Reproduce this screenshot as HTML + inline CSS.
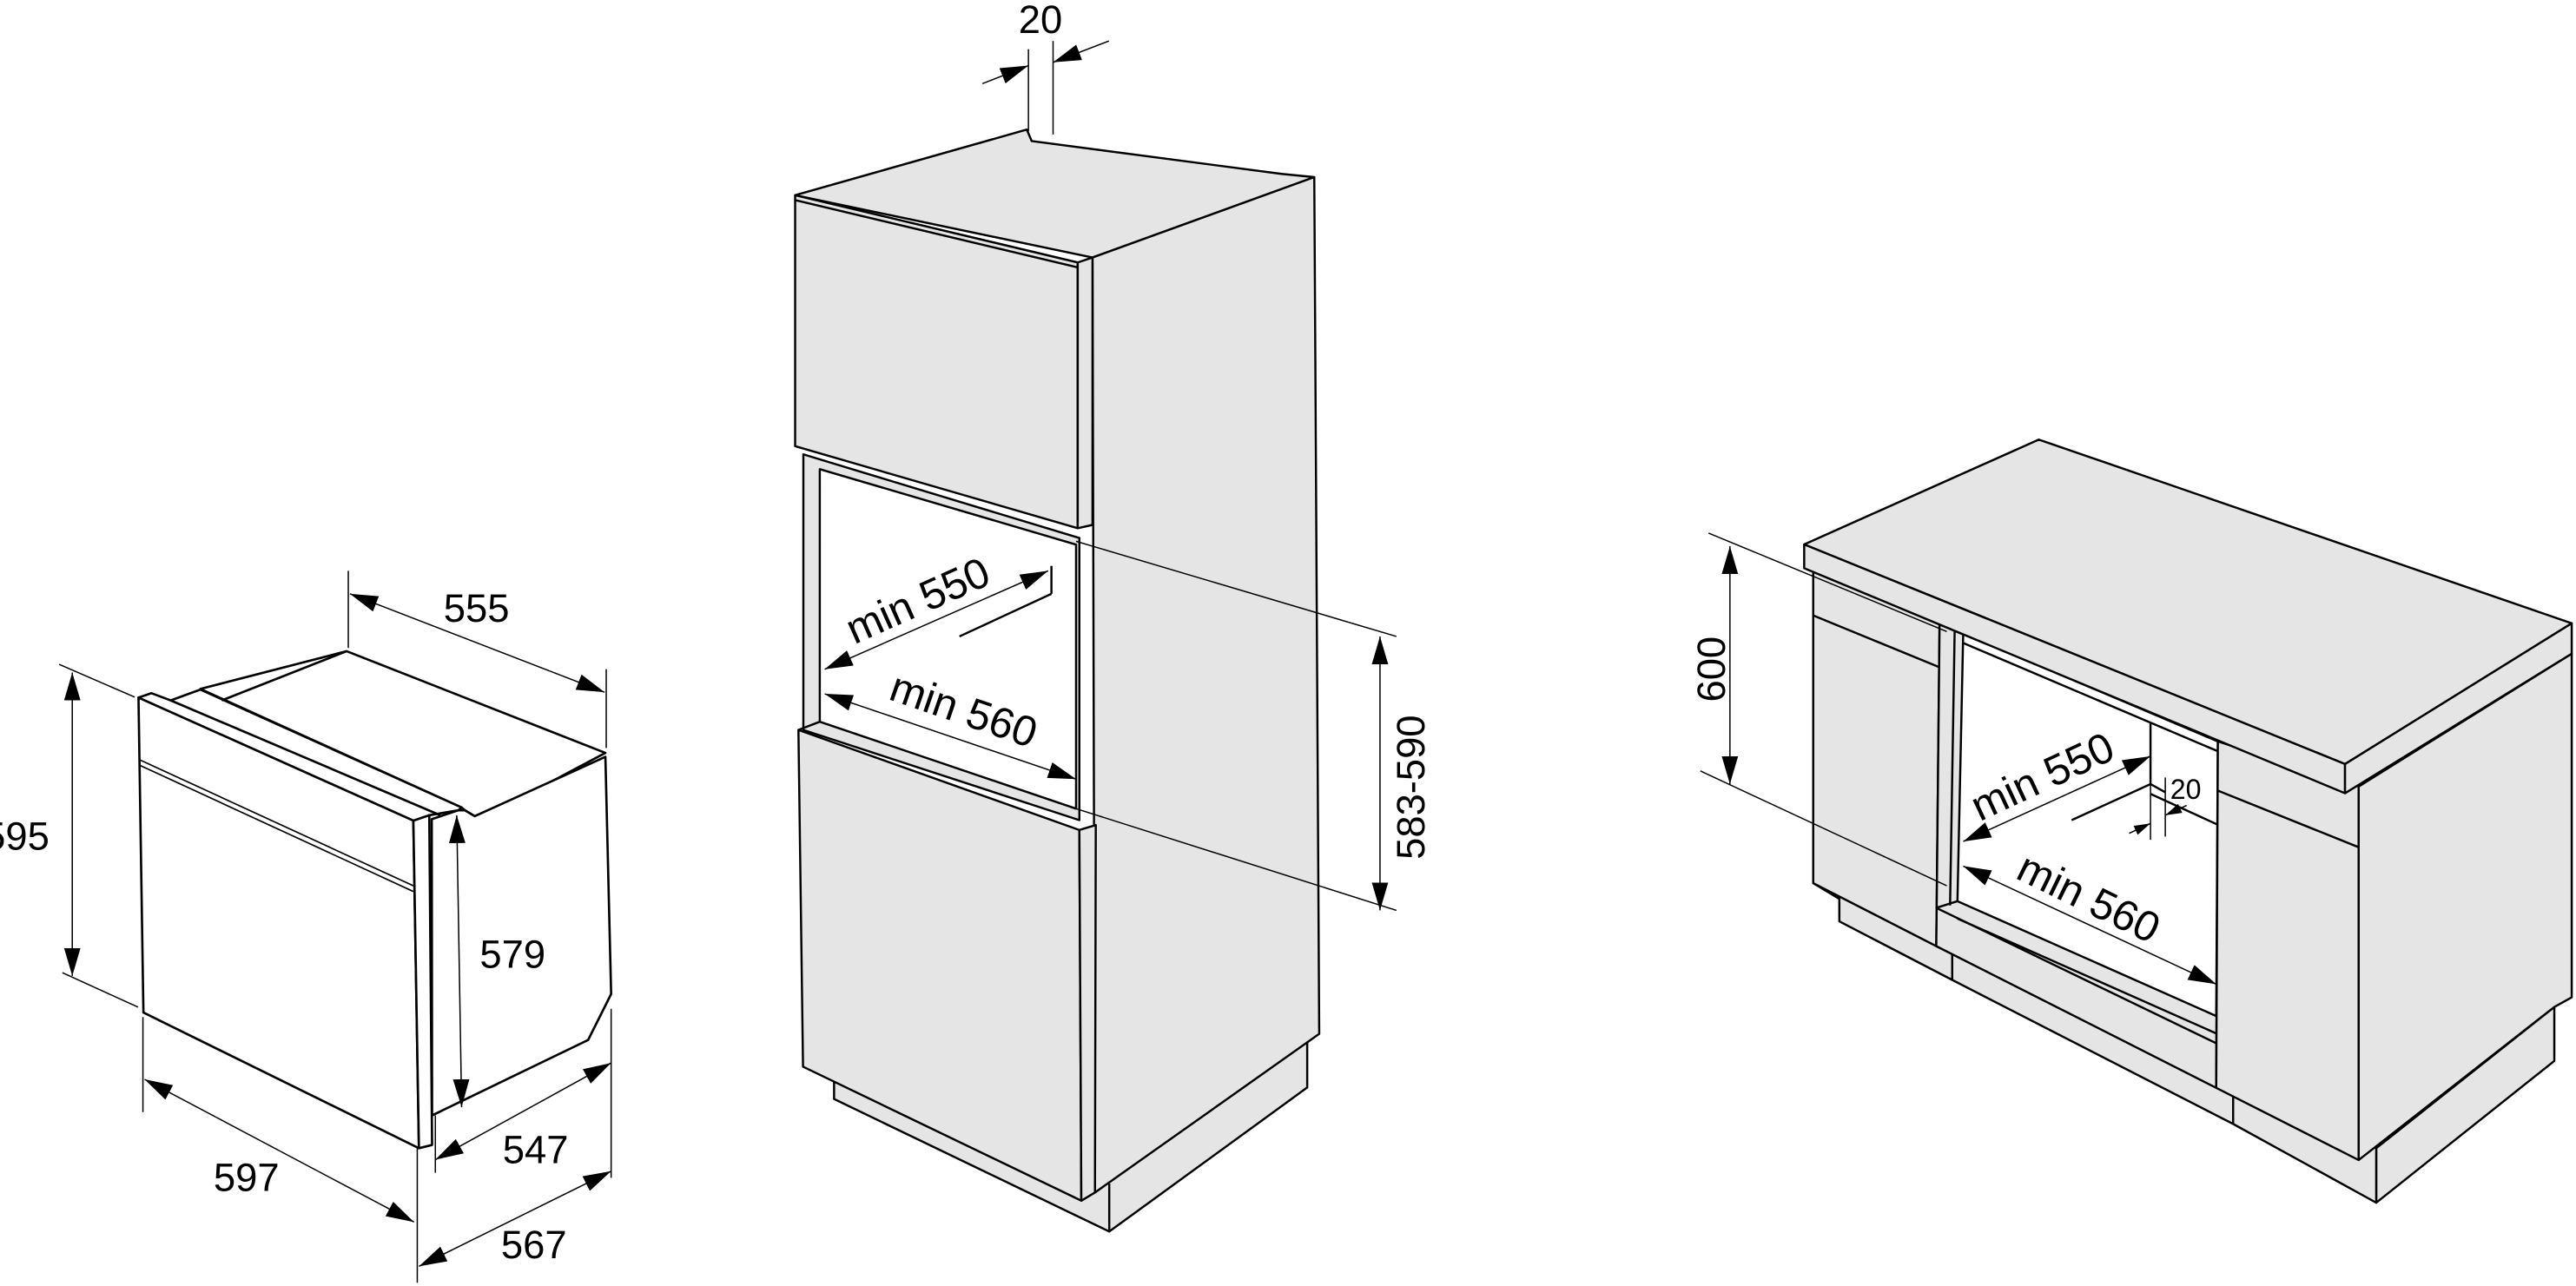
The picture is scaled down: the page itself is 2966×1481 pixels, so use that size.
<!DOCTYPE html>
<html><head><style>html,body{margin:0;padding:0;background:#fff;overflow:hidden}svg{display:block}</style></head>
<body>
<svg width="2966" height="1481" viewBox="0 0 1568 784" preserveAspectRatio="none" xmlns="http://www.w3.org/2000/svg">
<defs>
<marker id="a" viewBox="0 0 17 10" refX="17" refY="5" markerWidth="17" markerHeight="10" orient="auto-start-reverse" markerUnits="userSpaceOnUse"><path d="M0,0 L17,5 L0,10z" fill="#000"/></marker>
<marker id="s" viewBox="0 0 10 6" refX="10" refY="3" markerWidth="10" markerHeight="6" orient="auto-start-reverse" markerUnits="userSpaceOnUse"><path d="M0,0 L10,3 L0,6z" fill="#000"/></marker>
</defs>
<g fill="#fff" stroke="#000" stroke-width="1.4" stroke-linejoin="round">
<polygon points="122,420 211,397 368.5,459 329,480 289,497.6 283,494 281,492.3"/>
<polygon points="262.8,499.4 279,494 283,494 289,497.6 368.5,461.4 372,606 358,634 263,680"/>
<polygon points="84.3,425.3 92.2,422.6 103.9,427 122,420.4 281,492.3 279,494 261.3,497 251.6,500.3"/>
<polygon points="84.3,425.3 251.6,500.3 255,700 87.3,617.3"/>
<polygon points="251.6,500.3 261.3,497 263,698 255,700"/>
<line x1="135" y1="427" x2="211" y2="397"/>
<line x1="103.9" y1="427" x2="268" y2="497"/>
<line x1="85" y1="463.2" x2="251.6" y2="540" stroke-width="0.9"/>
<line x1="85" y1="466.5" x2="251.6" y2="543.5" stroke-width="0.9"/>
</g>
<g fill="#e5e5e5" stroke="#000" stroke-width="1.3" stroke-linejoin="round">
<polygon points="507.7,655 507.7,670 675.2,750.8 795.7,663 795.7,630"/>
<line x1="675.2" y1="721.6" x2="675.2" y2="750.8"/>
<polygon points="484,119 625,79 628,86 780,106 800,108 665,157"/>
<polygon points="665,157 800,108 803,630.3 666.5,727"/>
<polygon points="489,277 657,328 657,500 489,445"/>
<polygon points="499,286 655,332 655,493 499,440" fill="#fff"/>
<polygon points="484,119 656,160 656,322 484,272"/>
<polygon points="656,160 665,157 665,320 656,322"/>
<line x1="484" y1="122" x2="656" y2="163"/>
<polygon points="486,445 657,506 658.2,732 488.8,650.3"/>
<polygon points="657,506 667,503 666.5,727 658.2,732"/>
<line x1="486" y1="445" x2="499" y2="440"/>
<polygon points="1446.4,700 1446.4,733.2 1554.8,646.8 1554.8,613.9"/>
<polygon points="1119.6,548 1119.6,561.7 1188.3,597.4 1359.3,685.2 1446.4,733.2 1446.4,700 1178.6,576.8 1103.7,538.4"/>
<line x1="1188.3" y1="574" x2="1188.3" y2="597.4"/>
<line x1="1359.3" y1="659" x2="1359.3" y2="685.2"/>
<polygon points="1103.7,347.8 1180.6,380.7 1178.6,576.8 1103.7,538.4"/>
<line x1="1103.7" y1="375.2" x2="1180.6" y2="406.8"/>
<polygon points="1180.6,380.7 1350,452 1349,663.2 1178.6,576.8"/>
<polygon points="1195,386.2 1350,452 1349,619.4 1191.5,549.4" fill="#fff"/>
<line x1="1189.8" y1="384" x2="1187" y2="552"/>
<line x1="1191.5" y1="549.4" x2="1178.6" y2="553.5"/>
<line x1="1178.6" y1="553.5" x2="1349" y2="636"/>
<line x1="1191.5" y1="560" x2="1349" y2="630"/>
<line x1="1195" y1="392" x2="1350" y2="458"/>
<polygon points="1350,452 1435.7,479.5 1435.7,707.2 1349,663.2"/>
<line x1="1350" y1="482" x2="1435.7" y2="516.5"/>
<polygon points="1435.7,479.5 1565.4,398.5 1565.4,608 1554.8,613.9 1435.7,707.2"/>
<polygon points="1098.2,331.9 1241,268 1565.4,380 1427.4,465.8"/>
<polygon points="1098.2,331.9 1427.4,465.8 1427.4,483.6 1098.2,346.4"/>
<polygon points="1427.4,465.8 1565.4,380 1565.4,398.5 1427.4,483.6"/>
<line x1="1309" y1="440.5" x2="1309" y2="478"/>
<line x1="1309" y1="478" x2="1261" y2="500"/>
<line x1="1309" y1="478" x2="1318" y2="483"/>
<line x1="1309" y1="484" x2="1350" y2="502.8"/>
<line x1="584" y1="388" x2="640" y2="362"/>
<line x1="640" y1="345" x2="640" y2="362"/>
</g>
<g stroke="#000" stroke-width="0.8" fill="none">
<line x1="1309" y1="478" x2="1309" y2="512"/>
<line x1="1318" y1="474" x2="1318" y2="510"/>
<line x1="1296" y1="508" x2="1309" y2="502" marker-end="url(#s)"/>
<line x1="1331" y1="491" x2="1318" y2="497" marker-end="url(#s)"/>
<line x1="36" y1="405" x2="82" y2="425"/><line x1="38" y1="593" x2="84" y2="614"/>
<line x1="44" y1="410" x2="44" y2="595" marker-start="url(#a)" marker-end="url(#a)"/>
<line x1="212" y1="348" x2="212" y2="395"/><line x1="369" y1="408" x2="369" y2="456"/>
<line x1="213" y1="362" x2="368" y2="422" marker-start="url(#a)" marker-end="url(#a)"/>
<line x1="278" y1="497" x2="281" y2="675" marker-start="url(#a)" marker-end="url(#a)"/>
<line x1="265" y1="680" x2="265" y2="715"/><line x1="372" y1="615" x2="372" y2="718"/>
<line x1="265" y1="707" x2="372" y2="648" marker-start="url(#a)" marker-end="url(#a)"/>
<line x1="255" y1="772" x2="372" y2="714" marker-start="url(#a)" marker-end="url(#a)"/>
<line x1="87" y1="620" x2="87" y2="678"/><line x1="254" y1="700" x2="254" y2="782"/>
<line x1="88" y1="658" x2="252" y2="745" marker-start="url(#a)" marker-end="url(#a)"/>
<line x1="626" y1="30" x2="626" y2="80"/><line x1="641" y1="25" x2="641" y2="82"/>
<line x1="598" y1="51" x2="626" y2="40" marker-end="url(#a)"/>
<line x1="675" y1="25" x2="641" y2="38" marker-end="url(#a)"/>
<line x1="655" y1="330" x2="850" y2="388"/><line x1="655" y1="493" x2="850" y2="555"/>
<line x1="840" y1="388" x2="840" y2="555" marker-start="url(#a)" marker-end="url(#a)"/>
<line x1="502" y1="408" x2="638" y2="348" marker-start="url(#a)" marker-end="url(#a)"/>
<line x1="502" y1="423" x2="655" y2="475" marker-start="url(#a)" marker-end="url(#a)"/>
<line x1="1040" y1="325" x2="1185" y2="385"/><line x1="1035" y1="470" x2="1185" y2="540"/>
<line x1="1053" y1="333" x2="1053" y2="478" marker-start="url(#a)" marker-end="url(#a)"/>
<line x1="1195" y1="513" x2="1309" y2="461" marker-start="url(#a)" marker-end="url(#a)"/>
<line x1="1195" y1="528" x2="1349" y2="600" marker-start="url(#a)" marker-end="url(#a)"/>
</g>
<g font-family="Liberation Sans, sans-serif" font-size="24" fill="#000">
<text x="-10" y="518">595</text>
<text x="270" y="379">555</text>
<text x="292" y="590">579</text>
<text x="306" y="709">547</text>
<text x="305" y="767">567</text>
<text x="130" y="726">597</text>
<text x="620" y="20">20</text>
<text transform="translate(867,524) rotate(-90)">583-590</text>
<text transform="translate(520,393) rotate(-24)" font-size="26">min 550</text>
<text transform="translate(540,426) rotate(19)" font-size="26">min 560</text>
<text transform="translate(1050,428) rotate(-90)">600</text>
<text transform="translate(1205,501) rotate(-25)" font-size="26">min 550</text>
<text transform="translate(1226,535) rotate(26)" font-size="26">min 560</text>
<text x="1321" y="487" font-size="17">20</text>
</g>
</svg>
</body></html>
